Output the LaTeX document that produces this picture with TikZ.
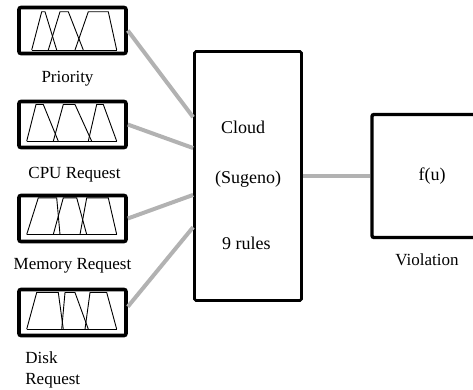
\documentclass[tikz,border=0pt]{standalone}
\usepackage{fontspec}
\setmainfont{Liberation Serif}
\begin{document}
\begin{tikzpicture}[x=1pt,y=1pt]

	\tikzstyle{inbox}=[draw=black,line width=3.6pt,rounded corners=2pt,
		minimum width=107pt,minimum height=46pt,
		node distance=94pt]
	\tikzstyle{fis}=[draw=black,line width=2.8pt,rounded corners=1.5pt,
		minimum width=107pt,minimum height=249pt]
	\tikzstyle{outbox}=[draw=black,line width=3.4pt,rounded corners=2pt,
		minimum width=120pt,minimum height=123pt,
		node distance=184pt,font=\fontsize{18}{22}\selectfont]
	\tikzstyle{lbl}=[font=\fontsize{17}{21}\selectfont,inner sep=0pt]
	\tikzstyle{big}=[font=\fontsize{18}{22}\selectfont,inner sep=0pt]
	\tikzstyle{mf}=[line width=0.9pt,line join=miter]
	\tikzstyle{link}=[draw=black!30,line width=4pt]

	\useasboundingbox (0,0) rectangle (473,-389);
	\clip (0,0) rectangle (473,-389);

	% inputs
	\node[inbox] (pri) at (72.5,-30.5) {};
	\node[inbox,below of=pri] (cpu) {};
	\node[inbox,below of=cpu] (mem) {};
	\node[inbox,below of=mem] (disk) {};

	\begin{scope}[shift={(pri.center)}]
		\foreach \a/\b/\c/\d in {-40.8/-30.8/-27.5/-15.8,-24.2/-12.5/-4.2/10.8,2.5/15.8/35.8/44.2}
			\draw[mf] (\a,-19.5) -- (\b,18.8) -- (\c,18.8) -- (\d,-19.5);
		\draw[mf] (-40.8,-19.5) -- (44.2,-19.5);
	\end{scope}
	\begin{scope}[shift={(cpu.center)}]
		\foreach \a/\b/\c/\d in {-45.8/-36.5/-29.2/-14.2,-19.2/-9.2/2.5/19.2,15.8/24.2/30.8/44.2}
			\draw[mf] (\a,-16.7) -- (\b,20) -- (\c,20) -- (\d,-16.7);
		\draw[mf] (-45.8,-16.7) -- (44.2,-16.7);
	\end{scope}
	\begin{scope}[shift={(mem.center)}]
		\foreach \a/\b/\c/\d in {-45.8/-34.2/-15.8/-12.5,-19.2/-9.2/4.2/14.2,7.5/14.2/35.8/44.2}
			\draw[mf] (\a,-16) -- (\b,20.7) -- (\c,20.7) -- (\d,-16);
		\draw[mf] (-45.8,-16) -- (44.2,-16);
	\end{scope}
	\begin{scope}[shift={(disk.center)}]
		\foreach \a/\b/\c/\d in {-45.8/-35.8/-14.2/-9.2,-10.8/-7.5/2.5/15.8,12.5/17.5/34.2/44.2}
			\draw[mf] (\a,-16.7) -- (\b,20) -- (\c,20) -- (\d,-16.7);
		\draw[mf] (-45.8,-16.7) -- (44.2,-16.7);
	\end{scope}

	\node[lbl,node distance=48pt,below of=pri,xshift=-5pt] (prilbl) {Priority};
	\node[lbl,node distance=50pt,below of=cpu,xshift=2pt] (cpulbl) {CPU Request};
	\node[lbl,node distance=47pt,below of=mem] (memlbl) {Memory Request};
	\node[lbl,align=left,anchor=north west] (disklbl)
		at ([xshift=8pt,yshift=-14pt]disk.south west) {Disk\\Request};

	% rule base
	\node[fis] (cloud) at (248,-176) {};
	\node[big,anchor=west] (cloudtxt) at ([xshift=-27pt,yshift=49pt]cloud.center) {Cloud};
	\node[big,anchor=west] (sugtxt) at ([xshift=-33pt,yshift=-3pt]cloud.center) {(Sugeno)};
	\node[big,anchor=west] (ruletxt) at ([xshift=-26pt,yshift=-67.5pt]cloud.center) {9 rules};

	% output
	\node[outbox,right of=cloud] (viol) {f(u)};
	\node[lbl,node distance=83.5pt,below of=viol,xshift=-5pt] (viollbl) {Violation};

	\draw[link] (pri.east) -- (cloud.133.5);
	\draw[link] (cpu.east) -- (cloud.153);
	\draw[link] (mem.east) -- (cloud.199);
	\draw[link] (disk.6) -- (cloud.223.4);
	\draw[link] (cloud.east) -- (viol.west);

\end{tikzpicture}
\end{document}
